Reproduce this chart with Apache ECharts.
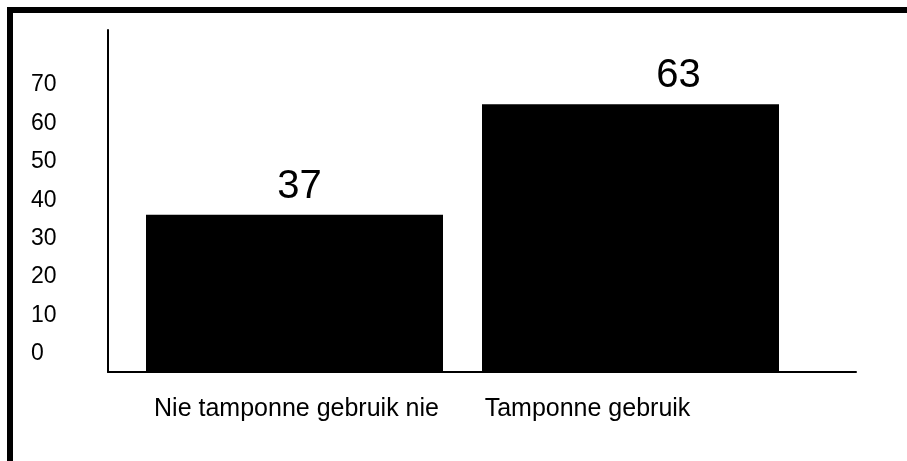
<!DOCTYPE html>
<html>
<head>
<meta charset="utf-8">
<script src="https://cdn.jsdelivr.net/npm/echarts@6/dist/echarts.min.js"></script>
<style>
  html, body { margin: 0; padding: 0; background: #fff; }
  #chart { width: 907px; height: 461px; }
</style>
</head>
<body>
<div id="chart"></div>
<script>
const categories = ['Nie tamponne gebruik nie', 'Tamponne gebruik'];
const values = [37, 63];
const tickLabels = [0, 10, 20, 30, 40, 50, 60, 70];

const FONT = '"Liberation Sans", Arial, Helvetica, sans-serif';

// offsets of the value labels as printed in the scan
const labelOffsets = [[5, 0], [48, 0]];

const chart = echarts.init(document.getElementById('chart'), null, { renderer: 'canvas' });

const option = {
  backgroundColor: '#fff',
  animation: false,
  graphic: [
    // scanned frame: top and left edge only
    { type: 'rect', shape: { x: 7, y: 7, width: 900, height: 6 }, style: { fill: '#000' } },
    { type: 'rect', shape: { x: 7, y: 7, width: 6, height: 454 }, style: { fill: '#000' } }
  ],
  grid: [
    { left: 126.5, right: 108.5, top: 30, bottom: 89 },   // bars
    { left: 108, right: 51, top: 30, bottom: 89 },        // axis lines
    { left: 108, right: 51, top: 85, bottom: 107 }        // tick labels
  ],
  xAxis: [
    {
      gridIndex: 0,
      type: 'category',
      data: categories,
      axisLine: { show: false },
      axisTick: { show: false },
      axisLabel: {
        interval: 0,
        hideOverlap: false,
        margin: 25,
        color: '#000',
        fontFamily: FONT,
        fontSize: 25,
        formatter: (v, i) => (i === 1 ? '{b|' + v + '}' : '{a|' + v + '}'),
        rich: {
          a: { fontFamily: FONT, fontSize: 25, color: '#000', padding: [0, 0, 0, 4] },
          b: { fontFamily: FONT, fontSize: 25, color: '#000', padding: [0, 86, 0, 0] }
        }
      }
    },
    {
      gridIndex: 1,
      type: 'value',
      axisLine: { show: true, onZero: false, lineStyle: { color: '#000', width: 2 } },
      axisTick: { show: false },
      axisLabel: { show: false },
      splitLine: { show: false }
    },
    {
      gridIndex: 2,
      type: 'value',
      show: false
    }
  ],
  yAxis: [
    {
      gridIndex: 0,
      type: 'value',
      min: 0,
      max: 80.5,
      show: false
    },
    {
      gridIndex: 1,
      type: 'value',
      axisLine: { show: true, onZero: false, lineStyle: { color: '#000', width: 2 } },
      axisTick: { show: false },
      axisLabel: { show: false },
      splitLine: { show: false }
    },
    {
      gridIndex: 2,
      type: 'value',
      min: tickLabels[0],
      max: tickLabels[tickLabels.length - 1],
      interval: 10,
      axisLine: { show: false },
      axisTick: { show: false },
      splitLine: { show: false },
      axisLabel: {
        align: 'left',
        margin: 77,
        color: '#000',
        fontFamily: FONT,
        fontSize: 23
      }
    }
  ],
  series: [
    {
      type: 'bar',
      xAxisIndex: 0,
      yAxisIndex: 0,
      barWidth: 297,
      itemStyle: { color: '#000' },
      label: {
        show: true,
        position: 'top',
        distance: 8,
        color: '#000',
        fontFamily: FONT,
        fontSize: 40
      },
      data: values.map((v, i) => ({ value: v, label: { offset: labelOffsets[i] } }))
    }
  ]
};

chart.setOption(option);
</script>
</body>
</html>
